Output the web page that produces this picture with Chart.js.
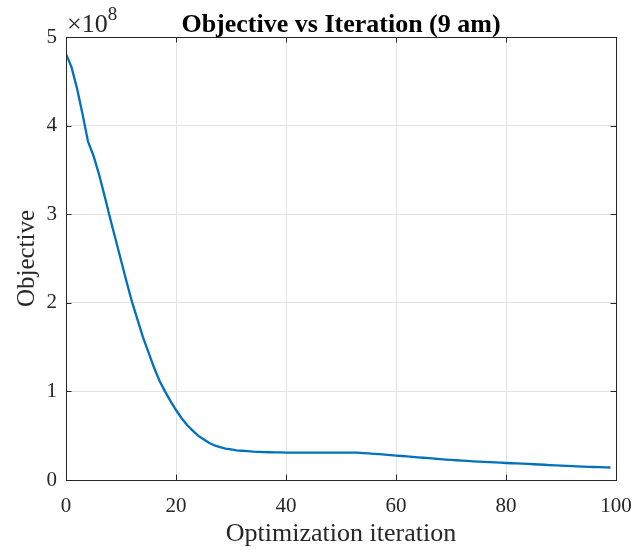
<!DOCTYPE html>
<html>
<head>
<meta charset="utf-8">
<script src="https://cdn.jsdelivr.net/npm/chart.js@4.4.0/dist/chart.umd.min.js"></script>
<style>
html,body{margin:0;padding:0;background:#fff;}
#wrap{width:639px;height:550px;position:relative;}
</style>
</head>
<body>
<div id="wrap"><canvas id="c" width="639" height="550"></canvas></div>
<script>
// Objective values (units of 1e8), one per optimization iteration 0..99
const objective = [
  4.81,4.66,4.42,4.13,3.82,3.66,3.45,3.21,2.96,2.72,
  2.48,2.24,2.01,1.81,1.61,1.44,1.27,1.12,1.00,0.89,
  0.79,0.70,0.62,0.56,0.50,0.46,0.42,0.39,0.37,0.355,
  0.345,0.335,0.33,0.325,0.32,0.318,0.315,0.313,0.312,0.311,
  0.31,0.31,0.31,0.31,0.31,0.31,0.31,0.31,0.31,0.31,
  0.31,0.31,0.31,0.308,0.304,0.300,0.296,0.291,0.286,0.281,
  0.276,0.271,0.266,0.261,0.256,0.251,0.246,0.241,0.236,0.231,
  0.227,0.223,0.219,0.215,0.211,0.208,0.204,0.201,0.198,0.195,
  0.192,0.189,0.187,0.184,0.181,0.178,0.175,0.172,0.169,0.166,
  0.163,0.160,0.157,0.154,0.151,0.149,0.147,0.145,0.143,0.141
];
const xTicks = [0,20,40,60,80,100];
const yTicks = [0,1,2,3,4,5];
const titleText = 'Objective vs Iteration (9 am)';
const xLabel = 'Optimization iteration';
const yLabel = 'Objective';
const exponentBase = '\u00d710';
const exponent = '8';

const FONT = "'Liberation Serif','Times New Roman',serif";
const TXT = '#262626';

const points = objective.map((v, i) => ({x: i, y: v}));

const boxPlugin = {
  id: 'matlabBox',
  afterDraw(chart) {
    const {ctx, chartArea: a, scales: {x, y}} = chart;
    ctx.save();
    ctx.strokeStyle = '#262626';
    ctx.lineWidth = 1;
    // inward ticks
    ctx.beginPath();
    const tl = 5.5;
    xTicks.forEach(t => {
      const px = Math.round(x.getPixelForValue(t)) + 0.5;
      ctx.moveTo(px, a.bottom); ctx.lineTo(px, a.bottom - tl);
      ctx.moveTo(px, a.top); ctx.lineTo(px, a.top + tl);
    });
    yTicks.forEach(t => {
      const py = Math.round(y.getPixelForValue(t)) + 0.5;
      ctx.moveTo(a.left, py); ctx.lineTo(a.left + tl, py);
      ctx.moveTo(a.right, py); ctx.lineTo(a.right - tl, py);
    });
    ctx.stroke();
    ctx.strokeRect(Math.round(a.left) + 0.5, Math.round(a.top) + 0.5,
                   Math.round(a.right - a.left), Math.round(a.bottom - a.top));
    // exponent label
    ctx.fillStyle = TXT;
    ctx.textBaseline = 'alphabetic';
    ctx.textAlign = 'left';
    ctx.font = "26px " + FONT;
    ctx.fillText(exponentBase, a.left + 1, a.top - 5);
    const w = ctx.measureText(exponentBase).width;
    ctx.font = "19px " + FONT;
    ctx.fillText(exponent, a.left + 1 + w, a.top - 17);
    // title
    ctx.fillStyle = '#000';
    ctx.textAlign = 'center';
    ctx.textBaseline = 'alphabetic';
    ctx.font = "bold 26px " + FONT;
    ctx.fillText(titleText, (a.left + a.right) / 2, 32);
    ctx.restore();
  }
};

new Chart(document.getElementById('c'), {
  type: 'line',
  data: {
    datasets: [{
      data: points,
      borderColor: '#0072BD',
      borderWidth: 2.3,
      pointRadius: 0,
      tension: 0,
      fill: false
    }]
  },
  options: {
    responsive: false,
    animation: false,
    devicePixelRatio: 1,
    layout: {padding: {top: 37, right: 23, left: 0, bottom: 0}},
    plugins: {legend: {display: false}, tooltip: {enabled: false}, title: {display: false}},
    scales: {
      x: {
        type: 'linear', min: 0, max: 100,
        afterBuildTicks: s => { s.ticks = xTicks.map(v => ({value: v})); },
        afterFit: s => { s.height = 70; s.paddingLeft = 0; s.paddingRight = 0; },
        grid: {color: '#e3e3e3', drawTicks: false, lineWidth: 1},
        border: {display: false},
        ticks: {font: {family: FONT, size: 21}, color: TXT, padding: 14, maxRotation: 0, autoSkip: false},
        title: {display: true, text: xLabel, font: {family: FONT, size: 26}, color: TXT, padding: {top: 0, bottom: 0}}
      },
      y: {
        type: 'linear', min: 0, max: 5,
        afterBuildTicks: s => { s.ticks = yTicks.map(v => ({value: v})); },
        afterFit: s => { s.width = 66; s.paddingTop = 0; s.paddingBottom = 0; },
        grid: {color: '#e3e3e3', drawTicks: false, lineWidth: 1},
        border: {display: false},
        ticks: {font: {family: FONT, size: 21}, color: TXT, padding: 9},
        title: {display: true, text: yLabel, font: {family: FONT, size: 25}, color: TXT, padding: {top: 12, bottom: 0}}
      }
    }
  },
  plugins: [boxPlugin]
});
</script>
</body>
</html>
